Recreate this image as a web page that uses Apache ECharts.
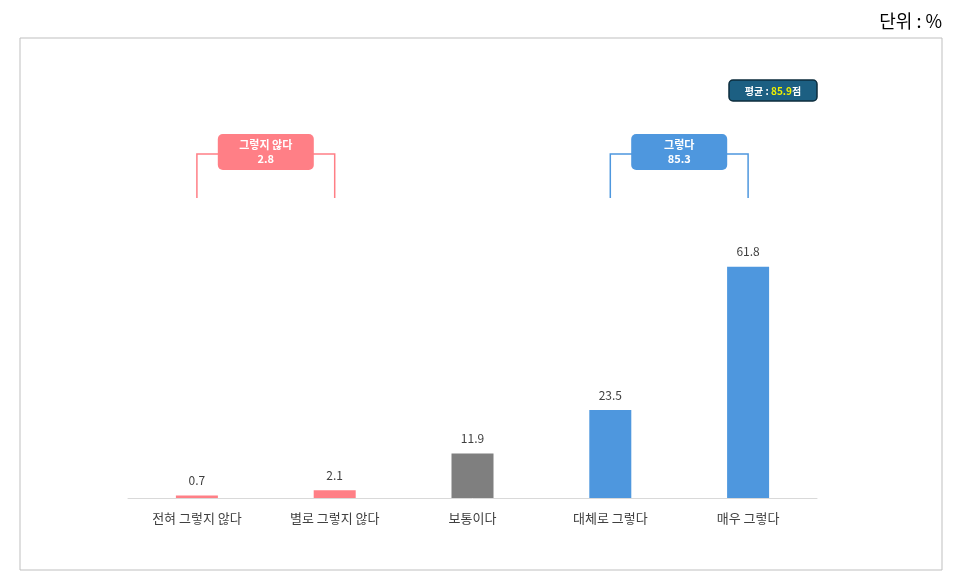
<!DOCTYPE html><html><head><meta charset="utf-8"><script src="https://cdn.jsdelivr.net/npm/echarts@6/dist/echarts.min.js"></script>
<style>html,body{margin:0;background:#fff}#c{width:960px;height:584px}</style></head><body><div id="c"></div><script>
const categories=['전혀 그렇지 않다','별로 그렇지 않다','보통이다','대체로 그렇다','매우 그렇다'];
const values=[0.7,2.1,11.9,23.5,61.8];
const colors=['#ff7f86','#ff7f86','#7f7f7f','#4e97de','#4e97de'];
const groupNeg={label:'그렇지 않다',value:'2.8'};
const groupPos={label:'그렇다',value:'85.3'};
const avg='85.9';
const F='"Noto Sans CJK KR","Noto Sans",sans-serif';
const ch=echarts.init(document.getElementById('c'));
ch.setOption({
 animation:false,
 grid:{left:128,right:143,top:236,bottom:86},
 xAxis:{type:'category',data:categories,axisTick:{show:false},axisLine:{lineStyle:{color:'#d9d9d9'}},
  axisLabel:{color:'#404040',fontSize:13,fontFamily:F,margin:14}},
 yAxis:{type:'value',min:0,max:70,show:false},
 series:[{type:'bar',barWidth:42,data:values.map((v,i)=>({value:v,itemStyle:{color:colors[i]}})),
  label:{show:true,position:'top',distance:9,color:'#404040',fontSize:12,fontFamily:F}}]
});
function px(i){return ch.convertToPixel({xAxisIndex:0},categories[i]);}
function bracket(i1,i2,col,g){
 const a=px(i1),b=px(i2),m=(a+b)/2;
 return [
  {type:'polyline',shape:{points:[[a,198],[a,154],[b,154],[b,198]]},style:{stroke:col,fill:null,lineWidth:1.5}},
  {type:'rect',shape:{x:m-48,y:134,width:96,height:36,r:5},style:{fill:col}},
  {type:'text',x:m,y:152,style:{text:g.label+'\n'+g.value,fill:'#fff',font:'bold 11px '+F,align:'center',verticalAlign:'middle',lineHeight:14}}
 ];
}
ch.setOption({graphic:[
 {type:'rect',shape:{x:20,y:38,width:922,height:532},style:{fill:null,stroke:'#bfbfbf',lineWidth:1}},
 {type:'text',x:942,y:21,style:{text:'단위 : %',fill:'#000',font:'18px '+F,align:'right',verticalAlign:'middle'}},
 {type:'rect',shape:{x:729,y:80,width:88,height:21,r:4},style:{fill:'#1c5f82',stroke:'#0d2d3d',lineWidth:1.5}},
 {type:'text',x:773,y:91,style:{rich:{w:{fill:'#fff',font:'bold 10px '+F},y:{fill:'#f0f000',font:'bold 10px '+F}},text:'{w|평균 : }{y|'+avg+'}{w|점}',align:'center',verticalAlign:'middle'}},
 ...bracket(0,1,'#ff7f86',groupNeg),
 ...bracket(3,4,'#4e97de',groupPos)
]});
</script></body></html>
